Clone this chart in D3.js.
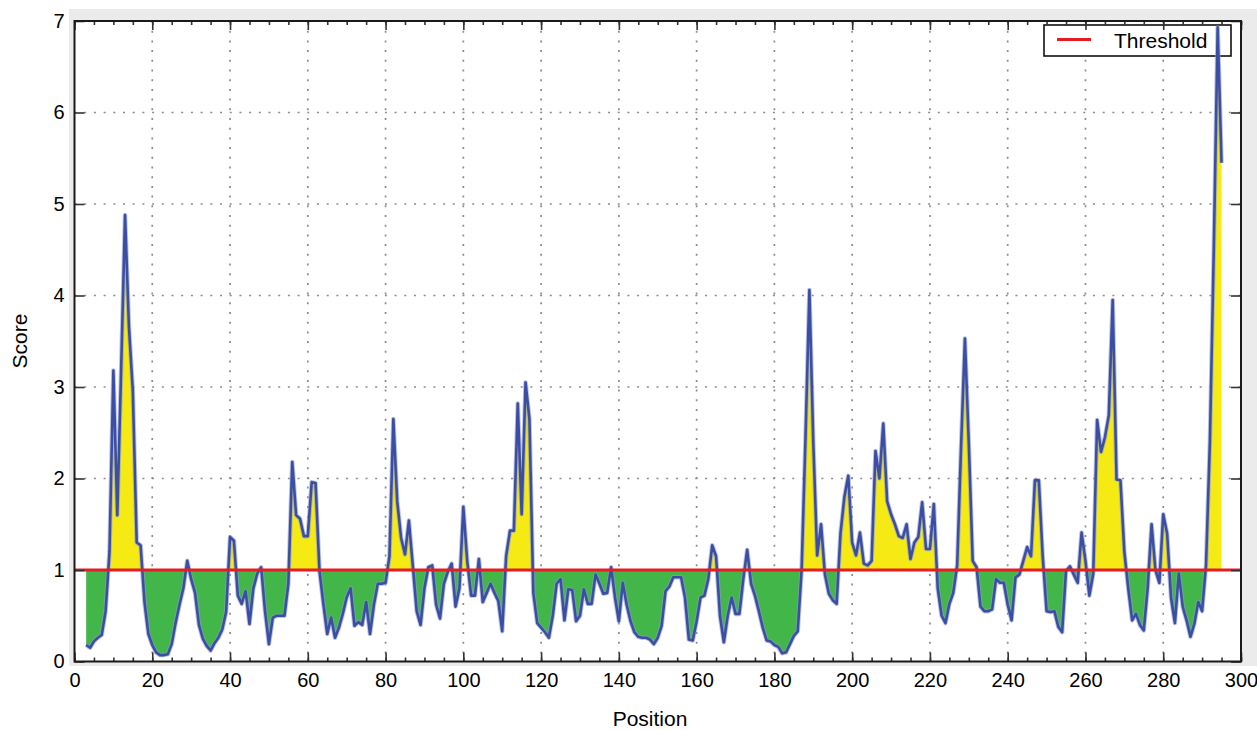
<!DOCTYPE html>
<html>
<head>
<meta charset="utf-8">
<script src="https://cdn.jsdelivr.net/npm/d3@7"></script>
<style>
  html, body { margin: 0; padding: 0; background: #ffffff; }
  svg { display: block; font-family: "Liberation Sans", Arial, sans-serif; }
</style>
</head>
<body>
<svg id="chart" width="1257" height="730"></svg>
<script>
// ---- data ----
const startPosition = 3;
const scores = [
  0.18,0.15,0.22,0.26,0.29,0.55,1.2,3.18,1.6,3.2,
  4.88,3.66,2.96,1.3,1.27,0.65,0.3,0.18,0.1,0.07,
  0.07,0.08,0.19,0.42,0.62,0.8,1.1,0.9,0.75,0.4,
  0.25,0.17,0.12,0.2,0.26,0.35,0.54,1.36,1.32,0.72,
  0.63,0.77,0.41,0.8,0.96,1.03,0.55,0.19,0.48,0.5,
  0.5,0.5,0.85,2.18,1.6,1.56,1.37,1.37,1.96,1.95,
  0.99,0.63,0.3,0.48,0.26,0.37,0.52,0.7,0.8,0.39,
  0.43,0.4,0.65,0.3,0.62,0.85,0.85,0.86,1.15,2.65,
  1.75,1.35,1.17,1.54,1.05,0.55,0.4,0.8,1.03,1.05,
  0.62,0.47,0.85,0.98,1.07,0.6,0.8,1.69,1.1,0.72,
  0.72,1.12,0.65,0.75,0.85,0.75,0.66,0.33,1.15,1.43,
  1.43,2.82,1.61,3.05,2.65,0.75,0.42,0.37,0.32,0.26,
  0.5,0.85,0.9,0.45,0.79,0.78,0.44,0.5,0.79,0.63,
  0.63,0.95,0.85,0.74,0.75,1.03,0.7,0.44,0.86,0.62,
  0.44,0.32,0.27,0.26,0.26,0.24,0.19,0.26,0.39,0.77,
  0.82,0.92,0.92,0.92,0.7,0.24,0.23,0.44,0.7,0.72,
  0.9,1.27,1.15,0.5,0.21,0.5,0.7,0.52,0.52,0.9,
  1.22,0.85,0.72,0.55,0.37,0.23,0.22,0.18,0.16,0.09,
  0.1,0.19,0.28,0.33,1.0,2.45,4.06,2.4,1.16,1.5,
  0.95,0.74,0.67,0.63,1.4,1.8,2.03,1.3,1.16,1.41,
  1.07,1.05,1.1,2.3,2.0,2.6,1.75,1.61,1.5,1.37,
  1.35,1.5,1.12,1.3,1.36,1.74,1.23,1.23,1.72,0.8,
  0.5,0.42,0.63,0.75,1.05,2.34,3.53,2.38,1.1,1.03,
  0.6,0.55,0.55,0.57,0.9,0.86,0.86,0.62,0.45,0.92,
  0.95,1.1,1.25,1.15,1.98,1.98,1.15,0.55,0.54,0.55,
  0.38,0.32,0.99,1.04,0.95,0.86,1.41,1.1,0.72,0.96,
  2.64,2.29,2.45,2.69,3.95,1.99,1.98,1.2,0.8,0.45,
  0.52,0.4,0.34,0.8,1.5,1.0,0.86,1.61,1.4,0.7,
  0.42,0.96,0.6,0.45,0.27,0.41,0.65,0.55,1.05,2.4,
  4.5,6.93,5.45
];
const threshold = 1;
const xTicks = [0,20,40,60,80,100,120,140,160,180,200,220,240,260,280,300];
const yTicks = [0,1,2,3,4,5,6,7];
const xLabel = "Position";
const yLabel = "Score";
const legendLabel = "Threshold";

const data = scores.map((v, i) => ({ pos: startPosition + i, v: v }));

// ---- layout ----
const svg = d3.select("#chart");
const x = d3.scaleLinear().domain([0, 300]).range([74.5, 1241]);
const y = d3.scaleLinear().domain([0, 7]).range([661.5, 21]);
const x0 = x(0), x1 = x(300), yTop = y(7), yBot = y(0);

// outer gray figure background
svg.append("rect").attr("x", 69).attr("y", 9).attr("width", 1257 - 69).attr("height", 666 - 9)
  .attr("fill", "#ebebeb");
// plot area
svg.append("rect").attr("x", x0).attr("y", yTop).attr("width", x1 - x0).attr("height", yBot - yTop)
  .attr("fill", "#ffffff");

// dotted grid
const grid = svg.append("g").attr("stroke", "#8c8c8c").attr("stroke-width", 1.7)
  .attr("stroke-dasharray", "2,7.7");
grid.selectAll("line.gx").data(xTicks.filter(t => t > 0 && t < 300)).join("line")
  .attr("x1", d => x(d)).attr("x2", d => x(d)).attr("y1", yTop).attr("y2", yBot);
grid.selectAll("line.gy").data(yTicks.filter(t => t > 0 && t < 7)).join("line")
  .attr("x1", x0).attr("x2", x1).attr("y1", d => y(d)).attr("y2", d => y(d));

// fills between curve and threshold
const defs = svg.append("defs");
defs.append("clipPath").attr("id", "above").append("rect")
  .attr("x", x0).attr("y", yTop).attr("width", x1 - x0).attr("height", y(threshold) - yTop);
defs.append("clipPath").attr("id", "below").append("rect")
  .attr("x", x0).attr("y", y(threshold)).attr("width", x1 - x0).attr("height", yBot - y(threshold));

const area = d3.area().x(d => x(d.pos)).y0(y(threshold)).y1(d => y(d.v));
svg.append("path").datum(data).attr("d", area).attr("fill", "#f5ea14").attr("clip-path", "url(#above)");
svg.append("path").datum(data).attr("d", area).attr("fill", "#43b649").attr("clip-path", "url(#below)");

// legend (drawn beneath the score line, as in the reference)
const lg = svg.append("g");
lg.append("rect").attr("x", 1044).attr("y", 25).attr("width", 187).attr("height", 31)
  .attr("fill", "#ffffff").attr("stroke", "#111").attr("stroke-width", 1.6);
lg.append("line").attr("x1", 1057).attr("x2", 1091).attr("y1", 39.5).attr("y2", 39.5)
  .attr("stroke", "#e41e20").attr("stroke-width", 3);
lg.append("text").attr("x", 1114).attr("y", 47.5).attr("font-size", 21).attr("fill", "#000").text(legendLabel);

// score line (soft halo + core)
const line = d3.line().x(d => x(d.pos)).y(d => y(d.v));
svg.append("path").datum(data).attr("d", line).attr("fill", "none")
  .attr("stroke", "#8f9bd0").attr("stroke-width", 4.5).attr("stroke-opacity", 0.6)
  .attr("stroke-linejoin", "round");
svg.append("path").datum(data).attr("d", line).attr("fill", "none")
  .attr("stroke", "#3b4ea3").attr("stroke-width", 2.6).attr("stroke-linejoin", "round");

// threshold line
svg.append("line").attr("x1", x0).attr("x2", x1).attr("y1", y(threshold)).attr("y2", y(threshold))
  .attr("stroke", "#e41e20").attr("stroke-width", 2.8);

// axes with inward ticks
const tickFont = g => g.selectAll("text").attr("font-size", 20).attr("fill", "#000")
  .attr("font-family", "'Liberation Sans', Arial, sans-serif");
const styleAxis = g => { g.select(".domain").remove(); g.selectAll(".tick line").attr("stroke", "#333").attr("stroke-width", 1.6); };

// bottom minor + major
svg.append("g").attr("transform", `translate(0,${yBot})`)
  .call(d3.axisBottom(x).tickValues(d3.range(0, 301, 5)).tickSize(-4).tickFormat(""))
  .call(styleAxis);
svg.append("g").attr("transform", `translate(0,${yBot})`)
  .call(d3.axisBottom(x).tickValues(xTicks).tickSize(-9).tickPadding(11).tickFormat(d3.format("d")))
  .call(styleAxis).call(tickFont);
// top minor + major
svg.append("g").attr("transform", `translate(0,${yTop})`)
  .call(d3.axisTop(x).tickValues(d3.range(0, 301, 5)).tickSize(-4).tickFormat(""))
  .call(styleAxis);
svg.append("g").attr("transform", `translate(0,${yTop})`)
  .call(d3.axisTop(x).tickValues(xTicks).tickSize(-9).tickFormat(""))
  .call(styleAxis);
// left
svg.append("g").attr("transform", `translate(${x0},0)`)
  .call(d3.axisLeft(y).tickValues(yTicks).tickSize(-10).tickPadding(10).tickFormat(d3.format("d")))
  .call(styleAxis).call(tickFont);
// right
svg.append("g").attr("transform", `translate(${x1},0)`)
  .call(d3.axisRight(y).tickValues(yTicks).tickSize(-10).tickFormat(""))
  .call(styleAxis);

// frame
svg.append("rect").attr("x", x0).attr("y", yTop).attr("width", x1 - x0).attr("height", yBot - yTop)
  .attr("fill", "none").attr("stroke", "#1a1a1a").attr("stroke-width", 2);

// axis titles
svg.append("text").attr("x", 650).attr("y", 726).attr("text-anchor", "middle")
  .attr("font-size", 21).attr("fill", "#000").text(xLabel);
svg.append("text").attr("transform", "translate(27,341) rotate(-90)").attr("text-anchor", "middle")
  .attr("font-size", 21).attr("fill", "#000").text(yLabel);
</script>
</body>
</html>
